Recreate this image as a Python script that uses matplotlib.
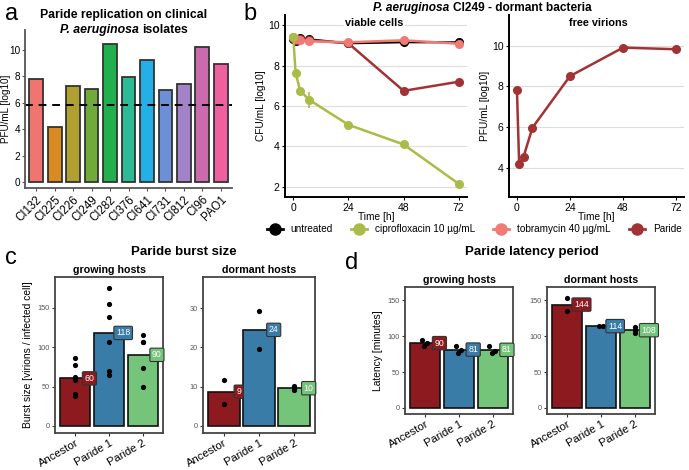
import matplotlib
matplotlib.use("Agg")
import matplotlib.pyplot as plt
from matplotlib.offsetbox import TextArea, HPacker, AnnotationBbox
from matplotlib.lines import Line2D

plt.rcParams["font.family"] = ["Liberation Sans", "DejaVu Sans"]

# ---- panel a data ----
isolates = ["CI132", "CI225", "CI226", "CI249", "CI282", "CI376", "CI641", "CI731", "CI812", "CI96", "PAO1"]
pfu_log = [7.8, 4.2, 7.3, 7.05, 10.45, 7.95, 9.25, 6.95, 7.45, 10.25, 8.9]
iso_colors = ["#F07470", "#D98A20", "#B0A030", "#70AA38", "#22B04E", "#2CBB95",
              "#22B0E6", "#6C90D6", "#A283C8", "#CC6AB0", "#EE60A0"]
threshold = 5.82

# ---- panel b data ----
times = [0, 1, 3, 7, 24, 48, 72]
untreated = [9.3, 9.2, 9.35, 9.3, 9.1, 9.15, 9.15]
cipro = [9.4, 7.65, 6.75, 6.3, 5.07, 4.1, 2.15]
cipro_err = [0, 0, 0.1, 0.4, 0, 0, 0]
tobra = [9.4, 9.3, 9.25, 9.2, 9.15, 9.25, 9.08]
paride_cells = [9.35, 9.25, 9.3, 9.25, 9.1, 6.75, 7.2]
virions = [7.82, 4.17, 4.55, 5.97, 8.5, 9.9, 9.82]
virions_err = [0, 0, 0, 0, 0, 0.05, 0.12]

# ---- panels c / d data ----
phages = ["Ancestor", "Paride 1", "Paride 2"]
phage_colors = ["#8C1A1E", "#3A7CA8", "#74C47A"]
burst_grow = [[86, 77, 62, 58, 41, 38], [175, 155, 138, 106, 70, 64], [115, 107, 106, 73, 50]]
burst_dorm = [[11.8, 5.6], [29.3, 19.6], [10.1, 9.5, 9.2]]
lat_grow = [[95, 90, 86], [86, 81, 77], [86, 80, 77]]
lat_dorm = [[153, 135], [114, 114], [113, 108, 104]]

W, H = 689, 470
fig = plt.figure(figsize=(W / 100, H / 100), dpi=100)


def add_ax(l, r, t, b):
    return fig.add_axes([l / W, 1 - b / H, (r - l) / W, (b - t) / H])


def ftext(x, y, s, **kw):
    fig.text(x / W, 1 - y / H, s, ha="center", va="center", **kw)


def mixed_title(x, y, italic, rest, size):
    pk = HPacker(children=[TextArea(italic, textprops=dict(fontsize=size, fontweight="bold", style="italic")),
                           TextArea(rest, textprops=dict(fontsize=size, fontweight="bold"))],
                 sep=2.5, pad=0, align="baseline")
    fig.add_artist(AnnotationBbox(pk, (x / W, 1 - y / H), xycoords="figure fraction", frameon=False,
                                  box_alignment=(0.5, 0.5)))


# ================= panel a =================
ax = add_ax(25, 232, 30, 188)
xs = list(range(len(isolates)))
ax.bar(xs, pfu_log, width=0.75, color=iso_colors, edgecolor="#333333", linewidth=1.3)
ax.axhline(threshold, color="black", ls=(0, (4, 3)), lw=1.4)
ax.set_ylim(-0.45, 11.5)
ax.set_xlim(-0.6, len(isolates) - 0.4)
ax.set_yticks([0, 2, 4, 6, 8, 10])
ax.set_xticks(xs)
ax.set_xticklabels(isolates, rotation=45, ha="right", rotation_mode="anchor", fontsize=8.3)
ax.tick_params(axis="y", labelsize=7.2, length=2.5, color="#555555", pad=1)
ax.tick_params(axis="x", length=2.5, color="#555555", pad=1.5)
ax.set_ylabel("PFU/mL [log10]", fontsize=7.1)
ax.yaxis.set_label_coords(-0.066, 0.5)
for s in ["top", "right"]:
    ax.spines[s].set_visible(False)
for s in ["left", "bottom"]:
    ax.spines[s].set_color("#555555")
    ax.spines[s].set_linewidth(1.3)
ftext(124, 15, "Paride replication on clinical", fontsize=8.8, fontweight="bold")
mixed_title(124, 30, "P. aeruginosa", "isolates", 8.8)
ftext(12, 14, "a", fontsize=17)


# ================= panel b =================
def style_b(ax, ylim, yticks, ylabel):
    ax.set_xlim(-3.6, 75.6)
    ax.set_ylim(*ylim)
    ax.set_xticks([0, 24, 48, 72])
    ax.set_yticks(yticks)
    ax.grid(axis="y", color="#DDDDDD", lw=0.8)
    ax.set_axisbelow(True)
    for s in ["top", "right"]:
        ax.spines[s].set_visible(False)
    for s in ["left", "bottom"]:
        ax.spines[s].set_linewidth(1.4)
    ax.tick_params(labelsize=7.5, length=2.5, pad=1.5)
    ax.set_xlabel("Time [h]", fontsize=7.3, labelpad=-0.5)
    ax.set_ylabel(ylabel, fontsize=7.3, labelpad=1.5)


axb1 = add_ax(285, 467, 15, 197)
style_b(axb1, (1.5, 10.5), [2, 4, 6, 8, 10], "CFU/mL [log10]")
col_un, col_ci, col_to, col_pa = "black", "#A9BC48", "#F07A74", "#A23234"
axb1.plot(times, untreated, "-o", color=col_un, lw=1.5, ms=5.5)
axb1.plot(times, paride_cells, "-o", color=col_pa, lw=1.8, ms=5.5)
axb1.errorbar(times, cipro, yerr=cipro_err, fmt="-o", color=col_ci, lw=1.8, ms=5.5, elinewidth=1.2, capsize=0)
axb1.plot(times, tobra, "-o", color=col_to, lw=1.8, ms=5.5)
axb1.text(0.49, 0.956, "viable cells", transform=axb1.transAxes, ha="center", va="center", fontsize=7.8,
          fontweight="bold", bbox=dict(fc="white", ec="none", pad=1))

axb2 = add_ax(509, 684, 15, 197)
style_b(axb2, (2.57, 11.5), [4, 6, 8, 10], "PFU/mL [log10]")
axb2.errorbar(times, virions, yerr=virions_err, fmt="-o", color=col_pa, lw=1.8, ms=5.5, elinewidth=1.2, capsize=0)
axb2.text(0.51, 0.956, "free virions", transform=axb2.transAxes, ha="center", va="center", fontsize=7.8,
          fontweight="bold")

mixed_title(482, 8, "P. aeruginosa", "CI249 - dormant bacteria", 8.6)
ftext(250, 14, "b", fontsize=17)

handles = [Line2D([], [], color=c, marker="o", ms=8, lw=2) for c in (col_un, col_ci, col_to, col_pa)]
labels = ["untreated", "ciprofloxacin 10 µg/mL", "tobramycin 40 µg/mL", "Paride"]
fig.legend(handles, labels, loc="center", bbox_to_anchor=(474 / W, 1 - 229 / H), ncol=4, frameon=False,
           fontsize=7.2, handlelength=1.6, columnspacing=1.8, handletextpad=0.8, borderpad=0.2)


# ================= panels c / d =================
def bar_panel(rect, groups, ylim, yticks, title, ylabel=None, offsets=None):
    ax = add_ax(*rect)
    means = [sum(g) / len(g) for g in groups]
    xs = [1, 2, 3]
    ax.bar(xs, means, width=0.9, color=phage_colors, edgecolor="#111111", linewidth=1.2, zorder=2)
    for i, g in enumerate(groups):
        offs = offsets[i] if offsets else [0] * len(g)
        ax.scatter([xs[i] + o for o in offs], g, s=14, color="black", zorder=3, linewidths=0)
        ax.text(xs[i] + 0.42, means[i], f"{means[i]:.0f}", ha="center", va="center", fontsize=6.3, color="white",
                zorder=4, bbox=dict(boxstyle="round,pad=0.25,rounding_size=0.15", fc=phage_colors[i],
                                    ec="#333333", lw=0.8))
    ax.set_xlim(0.4, 3.6)
    ax.set_ylim(*ylim)
    ax.set_yticks(yticks)
    ax.set_xticks(xs)
    ax.set_xticklabels(phages, rotation=30, ha="right", rotation_mode="anchor", fontsize=8.1)
    ax.tick_params(axis="y", labelsize=5.3, labelcolor="#555555", length=2.5, color="#333333", pad=1.5)
    ax.tick_params(axis="x", length=2.5, color="#333333", pad=1)
    for s in ax.spines.values():
        s.set_color("#444444")
        s.set_linewidth(1.3)
    ax.set_title(title, fontsize=7.7, fontweight="bold", pad=3)
    if ylabel:
        ax.set_ylabel(ylabel, fontsize=7.4, labelpad=3)
    return ax


bar_panel((55, 163, 277, 433), burst_grow, (-9, 189), [0, 50, 100, 150], "growing hosts",
          "Burst size [virions / infected cell]")
bar_panel((203, 315, 277, 433), burst_dorm, (-1.8, 37.9), [0, 10, 20, 30], "dormant hosts")
ftext(184, 252, "Paride burst size", fontsize=9.5, fontweight="bold")
ftext(11, 258, "c", fontsize=17)

jit = [[-0.1, 0.05, -0.05], [-0.1, 0.05, -0.02], [-0.1, 0.06, -0.03]]
bar_panel((405, 513, 287, 414), lat_grow, (-8.4, 168.5), [0, 50, 100, 150], "growing hosts",
          "Latency [minutes]", offsets=jit)
bar_panel((547, 655, 287, 414), lat_dorm, (-8.4, 168.5), [0, 50, 100, 150], "dormant hosts",
          offsets=[[0, 0], [-0.05, 0.05], [0, 0, 0]])
ftext(532, 252, "Paride latency period", fontsize=9.5, fontweight="bold")
ftext(352, 263, "d", fontsize=17)

fig.savefig("out.png", dpi=100)
